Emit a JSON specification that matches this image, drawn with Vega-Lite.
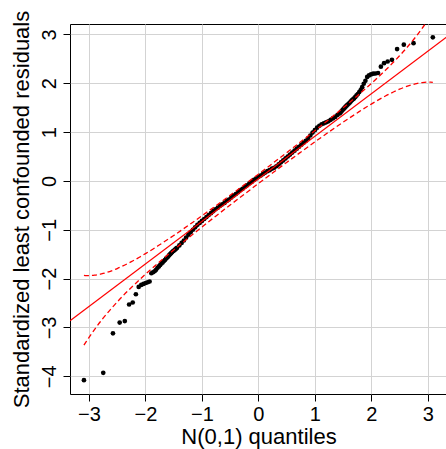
{
 "$schema": "https://vega.github.io/schema/vega-lite/v6.json",
 "width": 377, "height": 370,
 "autosize": {"type": "none"},
 "padding": {"left": 70, "top": 24, "right": 0, "bottom": 55},
 "background": "white",
 "config": {
  "view": {"stroke": "black", "strokeWidth": 1},
  "axis": {"domain": false, "grid": true, "gridColor": "#d3d3d3", "gridWidth": 1, "tickColor": "black", "tickSize": 7, "tickWidth": 1,
   "labelFont": "Liberation Sans", "labelFontSize": 20, "labelColor": "black", "labelPadding": 4,
   "titleFont": "Liberation Sans", "titleFontSize": 22, "titleFontWeight": "normal", "titleColor": "black"}
 },
 "datasets": {
  "pts": [
   {"z":-3.090,"r":-4.08},{"z":-2.748,"r":-3.93},{"z":-2.576,"r":-3.12},{"z":-2.457,"r":-2.90},{"z":-2.366,"r":-2.87},{"z":-2.290,"r":-2.53},{"z":-2.226,"r":-2.49},{"z":-2.170,"r":-2.32},{"z":-2.120,"r":-2.17},{"z":-2.075,"r":-2.13},{"z":-2.034,"r":-2.11},{"z":-1.995,"r":-2.09},{"z":-1.960,"r":-2.075},{"z":-1.927,"r":-2.06},{"z":-1.896,"r":-1.89},{"z":-1.866,"r":-1.87},{"z":-1.838,"r":-1.85},{"z":-1.812,"r":-1.82},{"z":-1.787,"r":-1.78},{"z":-1.762,"r":-1.75},{"z":-1.739,"r":-1.72},{"z":-1.717,"r":-1.69},{"z":-1.695,"r":-1.67},{"z":-1.675,"r":-1.64},{"z":-1.655,"r":-1.62},{"z":-1.635,"r":-1.59},{"z":-1.616,"r":-1.57},{"z":-1.598,"r":-1.55},{"z":-1.580,"r":-1.52},{"z":-1.563,"r":-1.50},{"z":-1.546,"r":-1.48},{"z":-1.530,"r":-1.46},{"z":-1.514,"r":-1.44},{"z":-1.499,"r":-1.43},{"z":-1.483,"r":-1.41},{"z":-1.468,"r":-1.40},{"z":-1.454,"r":-1.38},
   {"z":-1.44,"r":-1.37},{"z":-1.40,"r":-1.32},{"z":-1.36,"r":-1.27},{"z":-1.32,"r":-1.22},{"z":-1.28,"r":-1.16},{"z":-1.24,"r":-1.10},{"z":-1.20,"r":-1.05},{"z":-1.16,"r":-1.00},{"z":-1.12,"r":-0.95},{"z":-1.08,"r":-0.90},{"z":-1.04,"r":-0.86},{"z":-1.00,"r":-0.82},{"z":-0.96,"r":-0.78},{"z":-0.92,"r":-0.74},{"z":-0.88,"r":-0.70},{"z":-0.84,"r":-0.66},{"z":-0.80,"r":-0.62},{"z":-0.76,"r":-0.58},{"z":-0.72,"r":-0.55},{"z":-0.68,"r":-0.51},{"z":-0.64,"r":-0.48},{"z":-0.60,"r":-0.45},{"z":-0.56,"r":-0.41},{"z":-0.52,"r":-0.38},{"z":-0.48,"r":-0.34},{"z":-0.44,"r":-0.30},{"z":-0.40,"r":-0.27},{"z":-0.36,"r":-0.23},{"z":-0.32,"r":-0.19},{"z":-0.28,"r":-0.16},{"z":-0.24,"r":-0.12},{"z":-0.20,"r":-0.09},{"z":-0.16,"r":-0.05},{"z":-0.12,"r":-0.02},{"z":-0.08,"r":0.02},{"z":-0.04,"r":0.05},{"z":0.00,"r":0.08},{"z":0.04,"r":0.11},{"z":0.08,"r":0.14},{"z":0.12,"r":0.17},{"z":0.16,"r":0.20},{"z":0.20,"r":0.22},{"z":0.24,"r":0.25},{"z":0.28,"r":0.27},{"z":0.32,"r":0.30},{"z":0.36,"r":0.34},{"z":0.40,"r":0.38},{"z":0.44,"r":0.42},{"z":0.48,"r":0.46},{"z":0.52,"r":0.50},{"z":0.56,"r":0.54},{"z":0.60,"r":0.58},{"z":0.64,"r":0.62},{"z":0.68,"r":0.66},{"z":0.72,"r":0.70},{"z":0.76,"r":0.74},{"z":0.80,"r":0.78},{"z":0.84,"r":0.82},{"z":0.88,"r":0.87},{"z":0.92,"r":0.93},{"z":0.96,"r":0.99},{"z":1.00,"r":1.04},{"z":1.04,"r":1.09},{"z":1.08,"r":1.13},{"z":1.12,"r":1.16},{"z":1.16,"r":1.18},{"z":1.20,"r":1.20},{"z":1.24,"r":1.22},{"z":1.28,"r":1.25},{"z":1.32,"r":1.28},{"z":1.36,"r":1.31},{"z":1.40,"r":1.35},
   {"z":1.440,"r":1.38},{"z":1.454,"r":1.40},{"z":1.468,"r":1.42},{"z":1.483,"r":1.44},{"z":1.499,"r":1.46},{"z":1.514,"r":1.48},{"z":1.530,"r":1.50},{"z":1.546,"r":1.52},{"z":1.563,"r":1.54},{"z":1.580,"r":1.56},{"z":1.598,"r":1.58},{"z":1.616,"r":1.60},{"z":1.635,"r":1.625},{"z":1.655,"r":1.65},{"z":1.675,"r":1.67},{"z":1.695,"r":1.69},{"z":1.717,"r":1.72},{"z":1.739,"r":1.75},{"z":1.762,"r":1.78},{"z":1.787,"r":1.82},{"z":1.812,"r":1.86},{"z":1.838,"r":1.92},{"z":1.866,"r":1.99},{"z":1.896,"r":2.05},{"z":1.927,"r":2.13},{"z":1.960,"r":2.16},{"z":1.995,"r":2.18},{"z":2.034,"r":2.195},{"z":2.075,"r":2.20},{"z":2.120,"r":2.21},{"z":2.170,"r":2.34},{"z":2.226,"r":2.41},{"z":2.290,"r":2.445},{"z":2.366,"r":2.48},{"z":2.457,"r":2.70},{"z":2.576,"r":2.79},{"z":2.748,"r":2.82},{"z":3.090,"r":2.94}
  ],
  "ref": [{"z":-3.337,"r":-2.864},{"z":3.341,"r":2.952}],
  "env": [
   {"z":-3.09,"r":-1.934,"b":"u"},{"z":-3.05,"r":-1.938,"b":"u"},{"z":-3.0,"r":-1.938,"b":"u"},{"z":-2.9,"r":-1.930,"b":"u"},{"z":-2.8,"r":-1.910,"b":"u"},{"z":-2.75,"r":-1.895,"b":"u"},{"z":-2.6,"r":-1.840,"b":"u"},{"z":-2.5,"r":-1.794,"b":"u"},{"z":-2.4,"r":-1.741,"b":"u"},{"z":-2.25,"r":-1.654,"b":"u"},{"z":-2.1,"r":-1.557,"b":"u"},{"z":-2.0,"r":-1.489,"b":"u"},{"z":-1.9,"r":-1.419,"b":"u"},{"z":-1.75,"r":-1.308,"b":"u"},{"z":-1.5,"r":-1.118,"b":"u"},{"z":-1.25,"r":-0.919,"b":"u"},{"z":-1.0,"r":-0.714,"b":"u"},{"z":-0.75,"r":-0.505,"b":"u"},{"z":-0.5,"r":-0.294,"b":"u"},{"z":-0.25,"r":-0.079,"b":"u"},{"z":0,"r":0.138,"b":"u"},{"z":0.25,"r":0.357,"b":"u"},{"z":0.5,"r":0.578,"b":"u"},{"z":0.75,"r":0.801,"b":"u"},{"z":1.0,"r":1.028,"b":"u"},{"z":1.25,"r":1.259,"b":"u"},{"z":1.5,"r":1.496,"b":"u"},{"z":1.75,"r":1.740,"b":"u"},{"z":1.9,"r":1.891,"b":"u"},{"z":2.0,"r":1.995,"b":"u"},{"z":2.1,"r":2.101,"b":"u"},{"z":2.25,"r":2.266,"b":"u"},{"z":2.4,"r":2.439,"b":"u"},{"z":2.5,"r":2.562,"b":"u"},{"z":2.6,"r":2.690,"b":"u"},{"z":2.75,"r":2.895,"b":"u"},{"z":2.8,"r":2.968,"b":"u"},{"z":2.9,"r":3.122,"b":"u"},{"z":3.0,"r":3.288,"b":"u"},{"z":3.05,"r":3.376,"b":"u"},{"z":3.09,"r":3.448,"b":"u"},
   {"z":-3.09,"r":-3.364,"b":"l"},{"z":-3.05,"r":-3.292,"b":"l"},{"z":-3.0,"r":-3.204,"b":"l"},{"z":-2.9,"r":-3.038,"b":"l"},{"z":-2.8,"r":-2.884,"b":"l"},{"z":-2.75,"r":-2.811,"b":"l"},{"z":-2.6,"r":-2.606,"b":"l"},{"z":-2.5,"r":-2.478,"b":"l"},{"z":-2.4,"r":-2.355,"b":"l"},{"z":-2.25,"r":-2.182,"b":"l"},{"z":-2.1,"r":-2.017,"b":"l"},{"z":-2.0,"r":-1.911,"b":"l"},{"z":-1.9,"r":-1.807,"b":"l"},{"z":-1.75,"r":-1.656,"b":"l"},{"z":-1.5,"r":-1.412,"b":"l"},{"z":-1.25,"r":-1.175,"b":"l"},{"z":-1.0,"r":-0.944,"b":"l"},{"z":-0.75,"r":-0.717,"b":"l"},{"z":-0.5,"r":-0.494,"b":"l"},{"z":-0.25,"r":-0.273,"b":"l"},{"z":0,"r":-0.054,"b":"l"},{"z":0.25,"r":0.163,"b":"l"},{"z":0.5,"r":0.378,"b":"l"},{"z":0.75,"r":0.589,"b":"l"},{"z":1.0,"r":0.798,"b":"l"},{"z":1.25,"r":1.003,"b":"l"},{"z":1.5,"r":1.202,"b":"l"},{"z":1.75,"r":1.392,"b":"l"},{"z":1.9,"r":1.503,"b":"l"},{"z":2.0,"r":1.573,"b":"l"},{"z":2.1,"r":1.641,"b":"l"},{"z":2.25,"r":1.738,"b":"l"},{"z":2.4,"r":1.825,"b":"l"},{"z":2.5,"r":1.878,"b":"l"},{"z":2.6,"r":1.924,"b":"l"},{"z":2.75,"r":1.979,"b":"l"},{"z":2.8,"r":1.994,"b":"l"},{"z":2.9,"r":2.014,"b":"l"},{"z":3.0,"r":2.022,"b":"l"},{"z":3.05,"r":2.022,"b":"l"},{"z":3.09,"r":2.018,"b":"l"}
  ]
 },
 "layer": [
  {
   "data": {"name": "pts"},
   "mark": {"type": "point", "filled": true, "size": 22, "color": "black", "opacity": 1},
   "encoding": {
    "x": {"field": "z", "type": "quantitative",
     "scale": {"domain": [-3.337, 3.341], "nice": false, "zero": false},
     "axis": {"values": [-3, -2, -1, 0, 1, 2, 3], "format": "d", "title": "N(0,1) quantiles", "labelFlush": false, "labelOverlap": false, "labelPadding": 3,
      "titleBaseline": "alphabetic", "titleX": 188.5, "titleY": 49}},
    "y": {"field": "r", "type": "quantitative",
     "scale": {"domain": [-4.363, 3.213], "nice": false, "zero": false},
     "axis": {"values": [-4, -3, -2, -1, 0, 1, 2, 3], "format": "d", "title": "Standardized least confounded residuals", "labelFlush": false, "labelOverlap": false,
      "labelAngle": 270, "labelAlign": "center", "labelBaseline": "bottom",
      "titleAngle": 270, "titleBaseline": "alphabetic", "titleX": -42, "titleY": 185}}
   }
  },
  {
   "data": {"name": "ref"},
   "mark": {"type": "line", "color": "red", "strokeWidth": 1.3, "clip": true},
   "encoding": {"x": {"field": "z", "type": "quantitative"}, "y": {"field": "r", "type": "quantitative"}}
  },
  {
   "data": {"name": "env"},
   "mark": {"type": "line", "color": "red", "strokeWidth": 1.3, "strokeDash": [5, 3], "clip": true, "interpolate": "monotone"},
   "encoding": {"x": {"field": "z", "type": "quantitative"}, "y": {"field": "r", "type": "quantitative"}, "detail": {"field": "b"}}
  }
 ]
}
